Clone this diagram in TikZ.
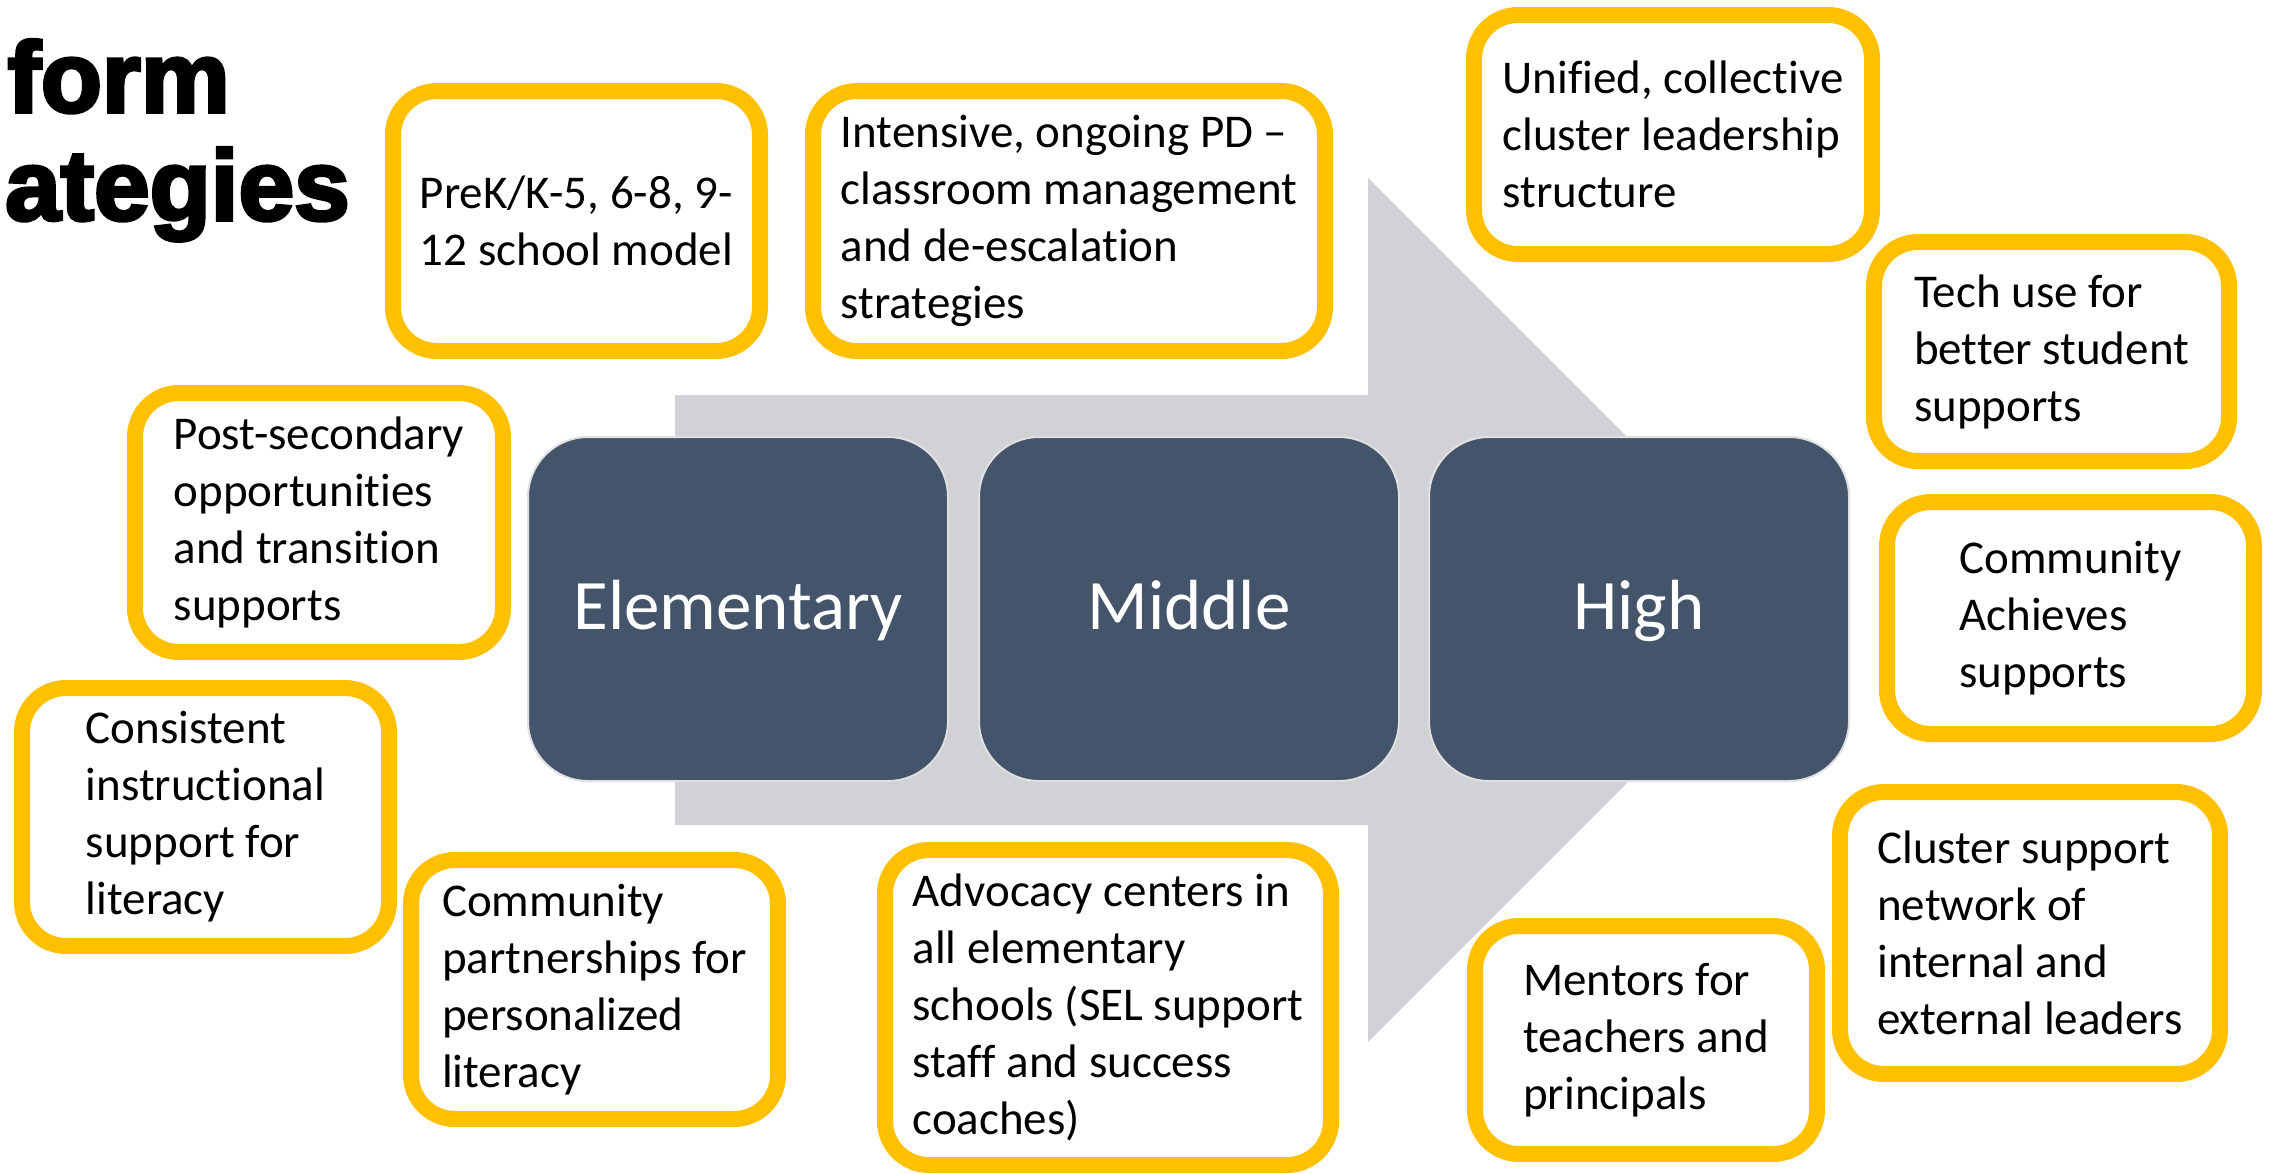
\documentclass[tikz,border=0pt]{standalone}
\usepackage{fontspec}
\setmainfont{Carlito}[Ligatures={TeX,NoCommon}]
\newfontfamily\titlefont[FakeBold=3.5]{Liberation Sans Bold}
\usepackage{tikz}
\usetikzlibrary{positioning}
\definecolor{gold}{HTML}{FFC000}
\definecolor{slate}{HTML}{44546A}
\definecolor{arrowgray}{HTML}{D0D2D5}
\tikzset{
	stage/.append style={
		fill=slate,
		draw=white!88!black,
		line width=2,
		rounded corners=60,
		outer sep=0,
		minimum width=420,
		minimum height=344,
		text height=50,
		text depth=10,
		text=white,
		font=\fontsize{71}{85}\selectfont
	},
	strategy/.append style={
		fill=white,
		draw=gold,
		line width=16,
		rounded corners=44,
		align=left,
		inner sep=0,
		font=\fontsize{47}{57}\selectfont
	},
	heading/.append style={
		anchor=base east,
		inner sep=0,
		font=\fontsize{100}{108}\titlefont
	}
}

\begin{document}
\begin{tikzpicture}[x=1pt, y=-1pt]
			\useasboundingbox (0,0) rectangle (2275,1173);
			\clip (0,0) rectangle (2275,1173);

			\node(titleone)[heading] at (230,112) {form};
			\node(titletwo)[heading] at (350,220) {ategies};

			% big grey arrow behind the three levels
			\fill[arrowgray] (675,395) -- (1368,395) -- (1368,178) -- (1800,610)
				-- (1368,1042) -- (1368,825) -- (675,825) -- cycle;

			\node(elementary)[stage] at (738,609) {Elementary};
			\node(middle)[stage, right=31pt of elementary] {Middle};
			\node(high)[stage, right=30pt of middle] {High};

			\node(prek)[strategy, minimum width=367, minimum height=260] at (576.5,221)
				{PreK/K-5, 6-8, 9-\\12 school model};
			\node(intensive)[strategy, minimum width=512, minimum height=260] at (1069,221)
				{Intensive, ongoing PD \textendash\\classroom management\\and de-escalation\\strategies};
			\node(unified)[strategy, minimum width=398, minimum height=239] at (1673,134.5)
				{Unified, collective\\cluster leadership\\structure};

			\node(postsec)[strategy, minimum width=368, minimum height=259] at (319,522.5)
				{Post-secondary\\opportunities\\and transition\\supports};
			\node(consistent)[strategy, minimum width=367, minimum height=258] at (205.5,817)
				{Consistent\\instructional\\support for\\literacy};
			\node(partners)[strategy, minimum width=367, minimum height=259] at (594.5,989.5)
				{Community\\partnerships for\\personalized\\literacy};
			\node(advocacy)[strategy, minimum width=446, minimum height=315] at (1108,1007.5)
				{Advocacy centers in\\all elementary\\schools (SEL support\\staff and success\\coaches)};

			\node(techuse)[strategy, minimum width=355, minimum height=219] at (2051.5,351.5)
				{Tech use for\\better student\\supports};
			\node(achieves)[strategy, minimum width=367, minimum height=232] at (2070.5,618)
				{Community\\Achieves\\supports};
			\node(network)[strategy, minimum width=380, minimum height=282] at (2030,933)
				{Cluster support\\network of\\internal and\\external leaders};
			\node(mentors)[strategy, minimum width=342, minimum height=228] at (1646,1040)
				{Mentors for\\teachers and\\principals};
\end{tikzpicture}
\end{document}
